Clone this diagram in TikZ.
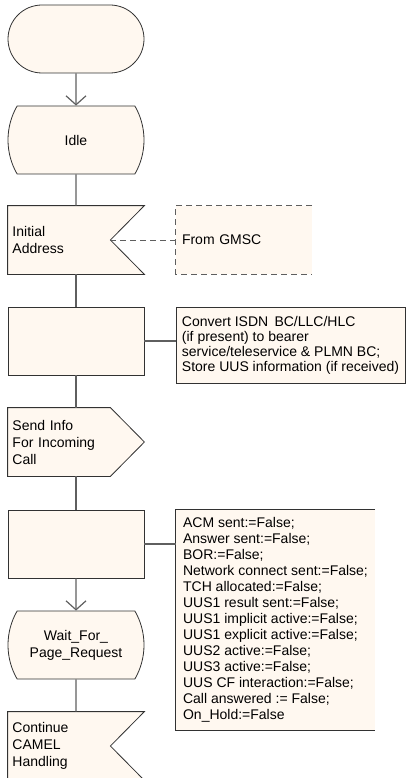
\documentclass[tikz,border=0pt]{standalone}
\usepackage{fontspec}
\setmainfont{Liberation Sans}
\usetikzlibrary{shapes.misc}
\usetikzlibrary{arrows.meta}
\usetikzlibrary{backgrounds}

\definecolor{sdlfill}{RGB}{255,248,240}
\definecolor{sdlline}{RGB}{50,50,50}
\definecolor{flowgray}{RGB}{95,95,95}

\tikzset{
	sdl/.style={draw=sdlline, fill=sdlfill, line width=0.8pt, minimum width=136pt, minimum height=68pt, inner sep=0pt, font=\fontsize{14}{17}\selectfont},
	sdlpath/.style={draw=sdlline, fill=sdlfill, line width=0.8pt},
	startsym/.style={sdl, rounded rectangle},
	statesym/.style={sdl, rounded rectangle, rounded rectangle arc length=60, align=center},
	tasksym/.style={sdl, rectangle},
	signalsym/.style={sdl, draw=none, fill=none, text width=127pt, align=left},
	note/.style={fill=sdlfill, inner xsep=6pt, inner ysep=0pt, align=left, font=\fontsize{14}{16}\selectfont},
	flow/.style={draw=flowgray, line width=1.2pt},
	arr/.style={flow, -{Straight Barb[length=9pt, width=20pt]}},
	dashline/.style={draw=flowgray, line width=1pt, dash pattern=on 6pt off 4pt}
}

\begin{document}
\begin{tikzpicture}[x=1pt, y=-1pt]

	\useasboundingbox (0,0) rectangle (406,778);

	% Process symbols
	\node [startsym] (start) at (76,39) {};
	\node [statesym] (idle) at (76,140) {Idle};
	\node [signalsym] (iam) at (76,240) {Initial\\Address};
	\node [tasksym] (convert) at (76,341) {};
	\node [signalsym] (sendinfo) at (76,442) {Send Info\\For Incoming\\Call};
	\node [tasksym] (setflags) at (76,544) {};
	\node [statesym] (wait) at (76,645) {Wait\_For\_\\Page\_Request};
	\node [signalsym] (camel) at (76,746) {Continue\\CAMEL\\Handling};

	% Input and output outlines
	\begin{scope}[on background layer]
		\draw [sdlpath] (iam.north west) -- (iam.north east) -- ([xshift=-34pt]iam.east) -- (iam.south east) -- (iam.south west) -- cycle;
		\draw [sdlpath] (sendinfo.north west) -- ([xshift=-34pt]sendinfo.north east) -- (sendinfo.east) -- ([xshift=-34pt]sendinfo.south east) -- (sendinfo.south west) -- cycle;
		\draw [sdlpath] (camel.north west) -- (camel.north east) -- ([xshift=-34pt]camel.east) -- (camel.south east) -- (camel.south west) -- cycle;
	\end{scope}

	% Comments
	\node [note, minimum width=136pt, minimum height=68pt, text width=124pt] (gmsc) at (244,240) {From GMSC};
	\draw [dashline] (gmsc.north east) -- (gmsc.north west) -- (gmsc.south west) -- (gmsc.south east);

	\node [note, draw=sdlline, line width=0.8pt, minimum width=229pt, minimum height=76pt, font=\fontsize{14}{15}\selectfont] (bcnote) at (290.5,345) {Convert ISDN\, BC/LLC/HLC\\(if present) to bearer\\service/teleservice \& PLMN BC;\\Store UUS information (if received)};

	\node [note, minimum width=199pt, minimum height=220pt] (flagnote) at (275.5,620) {ACM sent:=False;\\Answer sent:=False;\\BOR:=False;\\Network connect sent:=False;\\TCH allocated:=False;\\UUS1 result sent:=False;\\UUS1 implicit active:=False;\\UUS1 explicit active:=False;\\UUS2 active:=False;\\UUS3 active:=False;\\UUS CF interaction:=False;\\Call answered := False;\\On\_Hold:=False};
	\draw [draw=sdlline, line width=0.8pt] (flagnote.north east) -- (flagnote.north west) -- (flagnote.south west) -- (flagnote.south east);

	% Flow lines
	\draw [arr] (start) -- (idle);
	\draw [flow] (idle) -- (iam);
	\draw [flow] (iam) -- (convert);
	\draw [flow] (convert) -- (sendinfo);
	\draw [flow] (sendinfo) -- (setflags);
	\draw [arr] (setflags) -- (wait);
	\draw [flow] (wait) -- (camel);

	% Comment links
	\draw [dashline] ([xshift=-34pt]iam.east) -- (gmsc.west);
	\draw [flow] (convert.east) -- (convert.east -| bcnote.west);
	\draw [flow] (setflags.east) -- (setflags.east -| flagnote.west);

\end{tikzpicture}
\end{document}
